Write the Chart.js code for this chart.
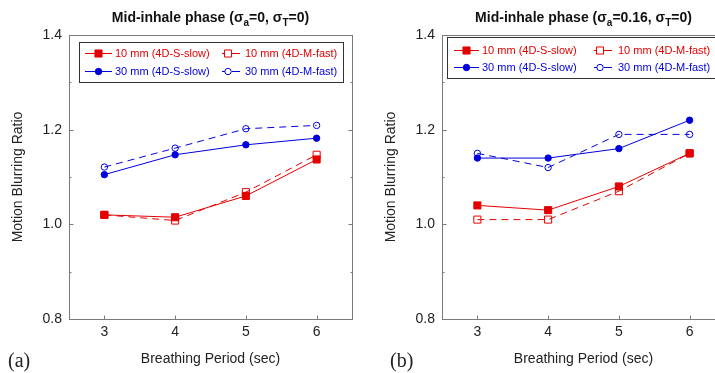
<!DOCTYPE html>
<html><head><meta charset="utf-8">
<script src="https://cdn.jsdelivr.net/npm/chart.js@4"></script>
<style>
html,body{margin:0;padding:0;background:#fff;}
#wrap{position:relative;width:715px;height:373px;overflow:hidden;background:#fff;}
canvas{position:absolute;top:0;}
.ttl{position:absolute;width:283px;text-align:center;font:bold 14px "Liberation Sans",Arial,sans-serif;color:#111;top:9px;white-space:nowrap;line-height:16px;}
.ttl sub{font-size:10px;vertical-align:-4px;line-height:0;}
.pl{position:absolute;font:20px "Liberation Serif","Times New Roman",serif;color:#222;top:348px;line-height:24px;}
</style></head>
<body><div id="wrap">
<canvas id="ca" width="373" height="373" style="left:0"></canvas>
<canvas id="cb" width="373" height="373" style="left:373px"></canvas>
<div class="ttl" style="left:69px">Mid-inhale phase (σ<sub>a</sub>=0, σ<sub>T</sub>=0)</div>
<div class="ttl" style="left:442px">Mid-inhale phase (σ<sub>a</sub>=0.16, σ<sub>T</sub>=0)</div>
<div class="pl" style="left:8px">(a)</div>
<div class="pl" style="left:390px">(b)</div>
</div>
<script>
// ---- data ----
const periods = [3, 4, 5, 6];
const seriesLabels = ['10 mm (4D-S-slow)', '10 mm (4D-M-fast)', '30 mm (4D-S-slow)', '30 mm (4D-M-fast)'];
const yTickValues = [0.8, 0.9, 1.0, 1.1, 1.2, 1.3, 1.4];
const yTickLabels = ['0.8', '', '1.0', '', '1.2', '', '1.4'];
const xTickLabels = ['3', '4', '5', '6'];
// panel (a): sigma_a = 0
const a10Slow = [1.020, 1.015, 1.060, 1.137];
const a10Fast = [1.020, 1.008, 1.068, 1.147];
const a30Slow = [1.105, 1.147, 1.168, 1.182];
const a30Fast = [1.121, 1.161, 1.202, 1.209];
// panel (b): sigma_a = 0.16
const b10Slow = [1.04, 1.03, 1.08, 1.15];
const b10Fast = [1.01, 1.01, 1.07, 1.15];
const b30Slow = [1.14, 1.14, 1.16, 1.22];
const b30Fast = [1.15, 1.12, 1.19, 1.19];

const RED = 'rgb(228,0,0)';
const BLUE = 'rgb(0,0,222)';
const AXIS = '#7a7a7a';
const FONT = '"Liberation Sans", Arial, sans-serif';

function ds(label, vals, color, dashed, style) {
  return {
    label: label,
    data: periods.map((x, i) => ({x: x, y: vals[i]})),
    borderColor: color,
    backgroundColor: color,
    borderWidth: 1,
    borderDash: dashed ? [7, 5] : [],
    pointStyle: style,
    pointRadius: style === 'rect' ? 5 : 3.2,
    pointBorderWidth: 1,
    pointBorderColor: color,
    pointBackgroundColor: dashed ? 'rgba(255,255,255,0)' : color,
    tension: 0
  };
}

const framePlugin = {
  id: 'frame',
  beforeDatasetsDraw(chart) {
    const ctx = chart.ctx, a = chart.chartArea;
    const L = Math.round(a.left) + 0.5, R = Math.round(a.right) + 0.5;
    const T = Math.round(a.top) + 0.5, B = Math.round(a.bottom) + 0.5;
    ctx.save();
    ctx.strokeStyle = AXIS; ctx.lineWidth = 1;
    ctx.strokeRect(L, T, R - L, B - T);
    const ys = chart.scales.y;
    ys.ticks.forEach((t) => {
      const y = Math.round(ys.getPixelForValue(t.value)) + 0.5;
      const len = t.label ? 4 : 2;
      ctx.beginPath();
      ctx.moveTo(L, y); ctx.lineTo(L + len, y);
      ctx.moveTo(R, y); ctx.lineTo(R - len, y);
      ctx.stroke();
    });
    const xs = chart.scales.x;
    xs.ticks.forEach(t => {
      const x = Math.round(xs.getPixelForValue(t.value)) + 0.5;
      ctx.beginPath(); ctx.moveTo(x, B); ctx.lineTo(x, B - 4); ctx.stroke();
    });
    ctx.restore();
  },
  afterDraw(chart, args, opts) {
    const ctx = chart.ctx, lg = opts;
    ctx.save();
    ctx.fillStyle = '#fff';
    ctx.fillRect(lg.x + 0.5, lg.y + 0.5, lg.w, lg.h);
    ctx.strokeStyle = '#333'; ctx.lineWidth = 1;
    ctx.strokeRect(lg.x + 0.5, lg.y + 0.5, lg.w, lg.h);
    ctx.font = '11px ' + FONT;
    ctx.textBaseline = 'middle';
    chart.data.datasets.forEach((d, i) => {
      const col = i % 2, row = Math.floor(i / 2);
      const y = lg.y + lg.rows[row] + 0.5;
      const s = lg.samples[col];
      const x0 = lg.x + s[0], x1 = lg.x + s[1];
      ctx.strokeStyle = d.borderColor; ctx.lineWidth = 1;
      let mx;
      ctx.beginPath();
      if (d.borderDash.length) {
        mx = x0 + 6;
        ctx.moveTo(x0, y); ctx.lineTo(x0 + 3, y);
        ctx.moveTo(x0 + 10, y); ctx.lineTo(x1, y);
      } else {
        mx = (x0 + x1) / 2;
        ctx.moveTo(x0, y); ctx.lineTo(x1, y);
      }
      ctx.stroke();
      ctx.fillStyle = d.pointBackgroundColor;
      ctx.strokeStyle = d.borderColor;
      ctx.beginPath();
      if (d.pointStyle === 'rect') {
        const h = d.pointRadius * Math.SQRT1_2;
        ctx.rect(mx - h, y - h, 2 * h, 2 * h);
      } else {
        ctx.arc(mx, y, d.pointRadius, 0, Math.PI * 2);
      }
      ctx.fill(); ctx.stroke();
      ctx.fillStyle = d.borderColor;
      ctx.fillText(d.label, lg.x + lg.text[col], y + 0.5);
    });
    ctx.restore();
  }
};

function makeChart(id, vals, legendOpts) {
  const datasets = [
    ds(seriesLabels[0], vals[0], RED, false, 'rect'),
    ds(seriesLabels[1], vals[1], RED, true, 'rect'),
    ds(seriesLabels[2], vals[2], BLUE, false, 'circle'),
    ds(seriesLabels[3], vals[3], BLUE, true, 'circle')
  ];
  return new Chart(document.getElementById(id), {
    type: 'line',
    data: {datasets: datasets},
    options: {
      responsive: false,
      animation: false,
      devicePixelRatio: 1,
      layout: {padding: {top: 35, right: 21, left: 0, bottom: 0}},
      plugins: {legend: {display: false}, tooltip: {enabled: false}, title: {display: false}, frame: legendOpts},
      scales: {
        x: {
          type: 'linear', min: 2.5, max: 6.5,
          afterBuildTicks: s => { s.ticks = periods.map(v => ({value: v})); },
          afterFit: s => { s.height = 54; },
          grid: {display: false, drawTicks: false},
          border: {display: false},
          ticks: {
            callback: (v) => xTickLabels[periods.indexOf(v)] ?? '',
            font: {family: FONT, size: 14}, color: '#222', padding: 5, maxRotation: 0
          },
          title: {display: true, text: 'Breathing Period (sec)', font: {family: FONT, size: 14}, color: '#222', padding: {top: 0, bottom: 5}}
        },
        y: {
          type: 'linear', min: 0.8, max: 1.4,
          afterBuildTicks: s => { s.ticks = yTickValues.map(v => ({value: v})); },
          afterFit: s => { s.width = 69; },
          grid: {display: false, drawTicks: false},
          border: {display: false},
          ticks: {
            callback: (v) => { const i = yTickValues.findIndex(t => Math.abs(t - v) < 1e-6); return i >= 0 ? yTickLabels[i] : ''; },
            font: {family: FONT, size: 14}, color: '#222', padding: 7
          },
          title: {display: true, text: 'Motion Blurring Ratio', font: {family: FONT, size: 14}, color: '#222', padding: {top: 10, bottom: 0}}
        }
      }
    },
    plugins: [framePlugin]
  });
}

makeChart('ca', [a10Slow, a10Fast, a30Slow, a30Fast],
  {x: 79, y: 42, w: 264, h: 40, rows: [11, 29], samples: [[6, 33], [143, 161]], text: [36, 166]});
makeChart('cb', [b10Slow, b10Fast, b30Slow, b30Fast],
  {x: 74, y: 37, w: 290, h: 41, rows: [13, 30], samples: [[7, 32], [147, 165]], text: [35, 171]});
</script>
</body></html>
